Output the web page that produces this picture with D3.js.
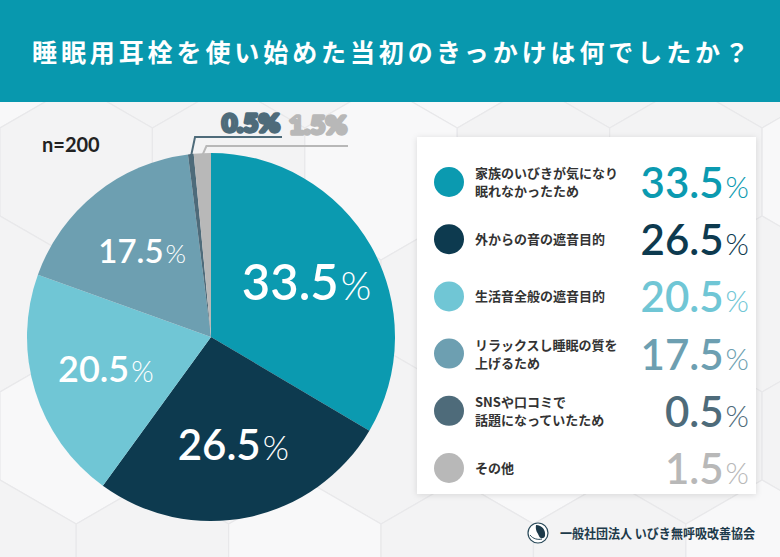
<!DOCTYPE html>
<html>
<head>
<meta charset="utf-8">
<script src="https://cdn.jsdelivr.net/npm/d3@7"></script>
<style>
  html, body { margin: 0; padding: 0; background: #f3f3f4; }
  svg { display: block; }
</style>
</head>
<body>
<div id="chart"></div>
<script>
// data
const title = "睡眠用耳栓を使い始めた当初のきっかけは何でしたか？";
const sampleLabel = "n=200";
const categories = ["family", "outside", "daily", "relax", "sns", "other"];
const legendLabels = [
    ["家族のいびきが気になり", "眠れなかったため"],
    ["外からの音の遮音目的"],
    ["生活音全般の遮音目的"],
    ["リラックスし睡眠の質を", "上げるため"],
    ["SNSや口コミで", "話題になっていたため"],
    ["その他"]
];
const values = [33.5, 26.5, 20.5, 17.5, 0.5, 1.5];
const colors = ["#0b9ab0", "#0d3a4f", "#70c6d5", "#6d9fb1", "#4e6b7a", "#b8b8b8"];
const footer = "一般社団法人 いびき無呼吸改善協会";

function main() {
    const W = 780, H = 557;
    const jp = "'Noto Sans CJK JP', 'Noto Sans', sans-serif";
    const num = "Lato, 'Noto Sans', sans-serif";

    const svg = d3.select("#chart").append("svg")
        .attr("width", W)
        .attr("height", H);

    const defs = svg.append("defs");
    const shadow = defs.append("filter").attr("id", "shadow")
        .attr("x", "-10%").attr("y", "-10%").attr("width", "120%").attr("height", "120%");
    shadow.append("feDropShadow")
        .attr("dx", 0).attr("dy", 1).attr("stdDeviation", 3)
        .attr("flood-color", "#000").attr("flood-opacity", 0.12);

    // background with faint hexagons
    svg.append("rect").attr("width", W).attr("height", H).attr("fill", "#f4f4f5");
    const hexR = 88;
    const hexW = Math.sqrt(3) * hexR;
    const hexPts = d3.range(6).map(i => {
        const a = Math.PI / 180 * (60 * i - 30);
        return [hexR * Math.cos(a), hexR * Math.sin(a)];
    });
    const hexG = svg.append("g");
    for (let row = -1; row < 6; row++) {
        for (let col = -1; col < 7; col++) {
            const cx = col * hexW + (row % 2 ? hexW / 2 : 0);
            const cy = row * hexR * 1.5 + 40;
            hexG.append("path")
                .attr("d", "M" + hexPts.map(p => [p[0] + cx, p[1] + cy]).join("L") + "Z")
                .attr("fill", (row + col) % 3 === 0 ? "#f8f8f9" : "#f3f3f4")
                .attr("stroke", "#e8e8ea")
                .attr("stroke-width", 1.2);
        }
    }

    // title band
    svg.append("rect").attr("x", 0).attr("y", 0).attr("width", W).attr("height", 102)
        .attr("fill", "#0898ae");
    svg.append("text")
        .attr("x", 32).attr("y", 62)
        .attr("textLength", 717)
        .attr("lengthAdjust", "spacing")
        .attr("font-family", jp)
        .attr("font-weight", 700)
        .attr("font-size", 25)
        .attr("fill", "#fff")
        .text(title);

    // pie
    const cx = 211, cy = 337, r = 184;
    const pie = d3.pie().sort(null).value(d => d);
    const arcs = pie(values);
    const arc = d3.arc().innerRadius(0).outerRadius(r);
    const labelArc = d3.arc().innerRadius(110).outerRadius(110);
    const fontScale = d3.scaleLinear().domain([17.5, 33.5]).range([33, 49]);

    const pieG = svg.append("g").attr("transform", `translate(${cx},${cy})`);
    pieG.selectAll("path.slice")
        .data(arcs)
        .enter().append("path")
        .attr("class", "slice")
        .attr("d", arc)
        .attr("fill", (d, i) => colors[i]);

    const big = arcs.filter(d => d.value >= 5);
    const lbl = pieG.selectAll("text.inlabel")
        .data(big)
        .enter().append("text")
        .attr("class", "inlabel")
        .attr("text-anchor", "middle")
        .attr("font-family", num)
        .attr("fill", "#fff")
        .attr("font-size", d => fontScale(d.value))
        .attr("x", d => labelArc.centroid(d)[0])
        .attr("y", d => labelArc.centroid(d)[1] + fontScale(d.value) * 0.36);
    lbl.append("tspan").attr("font-weight", 600).text(d => d.value.toFixed(1));
    lbl.append("tspan").attr("font-weight", 300).attr("font-size", "0.8em").attr("dx", 2).text("%");

    // small slices: outlined labels with leader lines
    const small = arcs.filter(d => d.value < 5);
    const edgeArc = d3.arc().innerRadius(r - 2).outerRadius(r - 2);
    const lineY = [137, 146];
    const lineEnd = [282, 348];
    const textX = [222, 289];
    const textY = [132, 134];
    small.forEach((d, k) => {
        const i = d.index;
        const p = edgeArc.centroid(d);
        const x0 = cx + p[0], y0 = cy + p[1];
        svg.append("path")
            .attr("d", d3.line()([[x0, y0], [x0 + 4, lineY[k]], [lineEnd[k], lineY[k]]]))
            .attr("fill", "none")
            .attr("stroke", colors[i])
            .attr("stroke-width", 2);
        svg.append("text")
            .attr("x", textX[k]).attr("y", textY[k])
            .attr("textLength", 58)
            .attr("lengthAdjust", "spacingAndGlyphs")
            .attr("font-family", num)
            .attr("font-weight", 900)
            .attr("font-size", 25)
            .attr("fill", "#f4f4f4")
            .attr("stroke", colors[i])
            .attr("stroke-width", 3.4)
            .attr("stroke-linejoin", "round")
            .text(d.value.toFixed(1) + "%");
    });

    // sample size
    svg.append("text")
        .attr("x", 42).attr("y", 152)
        .attr("font-family", num)
        .attr("font-weight", 700)
        .attr("font-size", 20)
        .attr("fill", "#222")
        .text(sampleLabel);

    // legend box
    svg.append("rect")
        .attr("x", 417).attr("y", 137).attr("width", 339).attr("height", 357)
        .attr("fill", "#fff")
        .attr("filter", "url(#shadow)");

    const yLeg = d3.scalePoint().domain(categories).range([182, 468]);
    const leg = svg.selectAll("g.leg")
        .data(categories)
        .enter().append("g")
        .attr("class", "leg")
        .attr("transform", d => `translate(0,${yLeg(d)})`);

    leg.append("circle")
        .attr("cx", 449).attr("cy", 0).attr("r", 15)
        .attr("fill", (d, i) => colors[i]);

    leg.each(function (d, i) {
        const g = d3.select(this);
        const lines = legendLabels[i];
        const t = g.append("text")
            .attr("font-family", jp)
            .attr("font-weight", 700)
            .attr("font-size", 13)
            .attr("fill", "#333");
        lines.forEach((s, j) => {
            t.append("tspan")
                .attr("x", 475)
                .attr("y", (j - (lines.length - 1) / 2) * 18 + 5)
                .text(s);
        });
        const v = g.append("text")
            .attr("x", 749).attr("y", 16)
            .attr("text-anchor", "end")
            .attr("font-family", num)
            .attr("fill", colors[i]);
        v.append("tspan").attr("font-weight", 600).attr("font-size", 42).text(values[i].toFixed(1));
        v.append("tspan").attr("font-weight", 300).attr("font-size", 30).attr("dx", 2).text("%");
    });

    // footer logo + name
    const logo = svg.append("g").attr("transform", "translate(538,533)");
    logo.append("circle").attr("r", 10).attr("fill", "#fff")
        .attr("stroke", "#2a4a5a").attr("stroke-width", 1.2);
    logo.append("path")
        .attr("d", "M-2,-8 C4,-8 8,-3 7,3 C6,6 2,6 1,3 C0,0 -3,-2 -2,-8 Z")
        .attr("fill", "#1d3a4a");
    logo.append("path")
        .attr("d", "M-8,2 C-5,6 0,7 4,6")
        .attr("fill", "none").attr("stroke", "#2a4a5a").attr("stroke-width", 1);

    svg.append("text")
        .attr("x", 560).attr("y", 538)
        .attr("textLength", 195)
        .attr("lengthAdjust", "spacingAndGlyphs")
        .attr("font-family", jp)
        .attr("font-weight", 700)
        .attr("font-size", 13)
        .attr("fill", "#1d3a4a")
        .text(footer);
}
main();
</script>
</body>
</html>
